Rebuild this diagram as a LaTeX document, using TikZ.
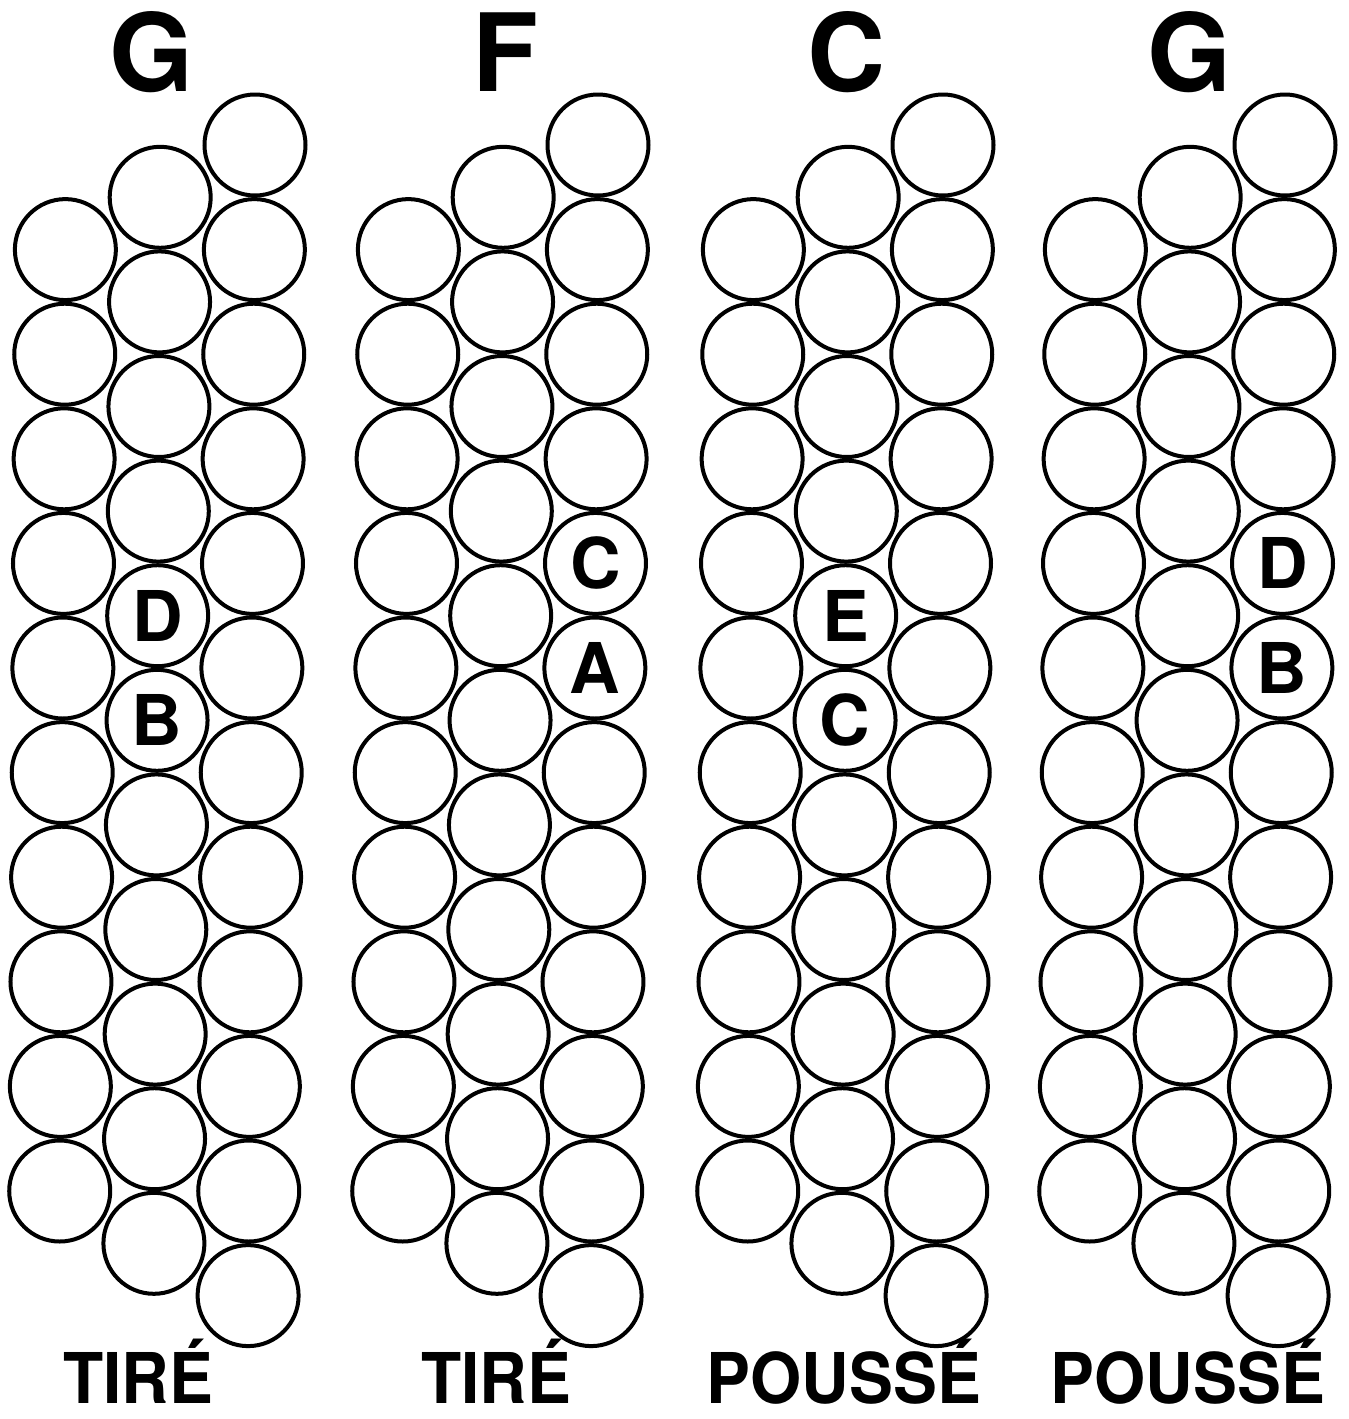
\documentclass[tikz,border=0pt]{standalone}
\usepackage{fontspec}
\setmainfont{TeX Gyre Heros}
\newfontfamily\labfont[FakeStretch=0.94]{TeX Gyre Heros}
\usetikzlibrary{positioning}

\begin{document}
\begin{tikzpicture}[
        x=0.5pt,y=-0.5pt,
        btn/.style={circle,draw,line width=2pt,fill=white,minimum size=50.5pt,inner sep=0pt},
        key/.style={font=\fontsize{35}{36}\selectfont\bfseries,inner sep=0pt},
        chord/.style={font=\fontsize{54}{56}\selectfont\bfseries,anchor=base,inner sep=0pt},
        bellows/.style={font=\labfont\fontsize{35}{37}\selectfont\bfseries,anchor=base,inner sep=0pt}]
        \useasboundingbox (0,0) rectangle (1349,1419);
        % four button boards: chord on top, bellows direction below
        \foreach \p/\xr/\xt/\ch/\xb/\dir in {1/255/152/G/138/TIRÉ, 2/598/505/F/496/TIRÉ, 3/943/846/C/844/POUSSÉ, 4/1285/1189/G/1188/POUSSÉ} {
            \node[chord] (ch\p) at (\xt,91) {\ch};
            \node[bellows] (dir\p) at (\xb,1403) {\dir};
            % outer row (12), middle row (11), inner row (10)
            \foreach \k in {0,...,11}
                \node[btn] (p\p-r\k) at ({\xr-0.006*\k*104.6},{145+\k*104.6}) {};
            \foreach \k in {0,...,10}
                \node[btn] (p\p-m\k) at ({\xr-94.5-0.006*(\k+0.5)*104.6},{145+(\k+0.5)*104.6}) {};
            \foreach \k in {0,...,9}
                \node[btn] (p\p-l\k) at ({\xr-189-0.006*(\k+1)*104.6},{145+(\k+1)*104.6}) {};
        }
        \node[key] (n1a) at (p1-m4) {D};
        \node[key] (n1b) at (p1-m5) {B};
        \node[key] (n2a) at (p2-r4) {C};
        \node[key] (n2b) at (p2-r5) {A};
        \node[key] (n3a) at (p3-m4) {E};
        \node[key] (n3b) at (p3-m5) {C};
        \node[key] (n4a) at (p4-r4) {D};
        \node[key] (n4b) at (p4-r5) {B};
    \end{tikzpicture}
\end{document}
